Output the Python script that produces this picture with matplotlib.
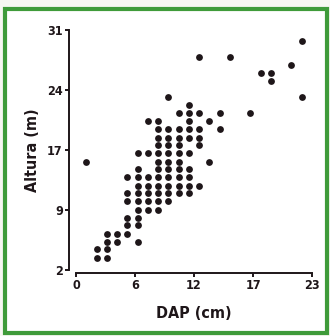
import matplotlib
matplotlib.use("Agg")
from matplotlib import pyplot as plt
from matplotlib.patches import Rectangle

#######################################################
## data (one group per DAP column)
#######################################################

dap = ([1] +
       [2] * 2 +
       [3] * 4 +
       [4] * 2 +
       [5] * 6 +
       [6] * 10 +
       [7] * 7 +
       [8] * 12 +
       [9] * 11 +
       [10] * 10 +
       [11] * 10 +
       [12] * 6 +
       [13] * 2 +
       [14] * 2 +
       [15, 17, 18] +
       [19] * 2 +
       [21] +
       [22] * 2)

altura = ([15.1] +
          [4.5, 3.5] +
          [6.4, 5.4, 4.5, 3.5] +
          [6.4, 5.4] +
          [13.2, 11.3, 10.3, 8.3, 7.4, 6.4] +
          [16.1, 14.2, 13.2, 12.2, 11.3, 10.3, 9.3, 8.3, 7.4, 5.4] +
          [20.0, 16.1, 13.2, 12.2, 11.3, 10.3, 9.3] +
          [20.0, 19.0, 18.0, 17.1, 16.1, 15.1, 14.2, 13.2, 12.2, 11.3, 10.3, 9.3] +
          [22.9, 19.0, 18.0, 17.1, 16.1, 15.1, 14.2, 13.2, 12.2, 11.3, 10.3] +
          [21.0, 19.0, 18.0, 17.1, 16.1, 15.1, 14.2, 13.2, 12.2, 11.3] +
          [21.9, 21.0, 20.0, 19.0, 18.0, 16.1, 14.2, 13.2, 12.2, 11.3] +
          [27.7, 21.0, 19.0, 18.0, 17.1, 12.2] +
          [20.0, 15.1] +
          [21.0, 19.0] +
          [27.7, 21.0, 25.8] +
          [25.8, 24.8] +
          [26.8] +
          [29.7, 22.9])

xticks = [0, 5.75, 11.5, 17.25, 23]
xtick_labels = ['0', '6', '12', '17', '23']
yticks = [2, 9.25, 16.5, 23.75, 31]
ytick_labels = ['2', '9', '17', '24', '31']

#######################################################
## figure
#######################################################

plt.rcParams['font.family'] = ['DejaVu Sans']
plt.rcParams['font.stretch'] = 'condensed'
plt.rcParams['font.weight'] = 'bold'

ink = '#1e1619'
fig = plt.figure(figsize=(3.3, 3.36), dpi=100)
fig.patch.set_facecolor('#f7f7f2')
# green frame
fig.add_artist(Rectangle((5 / 330, 3 / 336), 322 / 330, 324 / 336,
                         transform=fig.transFigure, facecolor='#ffffff',
                         edgecolor='#3f9b3a', linewidth=3, zorder=0))

ax = fig.add_axes([76 / 330, 66 / 336, 236 / 330, 240 / 336])
ax.patch.set_alpha(0)
ax.scatter(dap, altura, s=24, color=ink, linewidths=0, zorder=3, clip_on=False)

ax.set_xlim(0, 23)
ax.set_ylim(2, 31)
ax.set_xticks(xticks)
ax.set_xticklabels(xtick_labels)
ax.set_yticks(yticks)
ax.set_yticklabels(ytick_labels)

for side in ['top', 'right']:
    ax.spines[side].set_visible(False)
ax.spines['left'].set_position(('outward', 5))
ax.spines['bottom'].set_position(('outward', 2))
for side in ['left', 'bottom']:
    ax.spines[side].set_color(ink)
    ax.spines[side].set_linewidth(1.4)
ax.tick_params(axis='both', colors=ink, width=1.4, length=3, pad=1.5,
               labelsize=9)

ax.set_xlabel('DAP (cm)', fontsize=11.5, fontweight='bold', color=ink, labelpad=10)
ax.set_ylabel('Altura (m)', fontsize=11.5, fontweight='bold', color=ink, labelpad=5)

plt.savefig('out.png', dpi=100, facecolor=fig.get_facecolor())
